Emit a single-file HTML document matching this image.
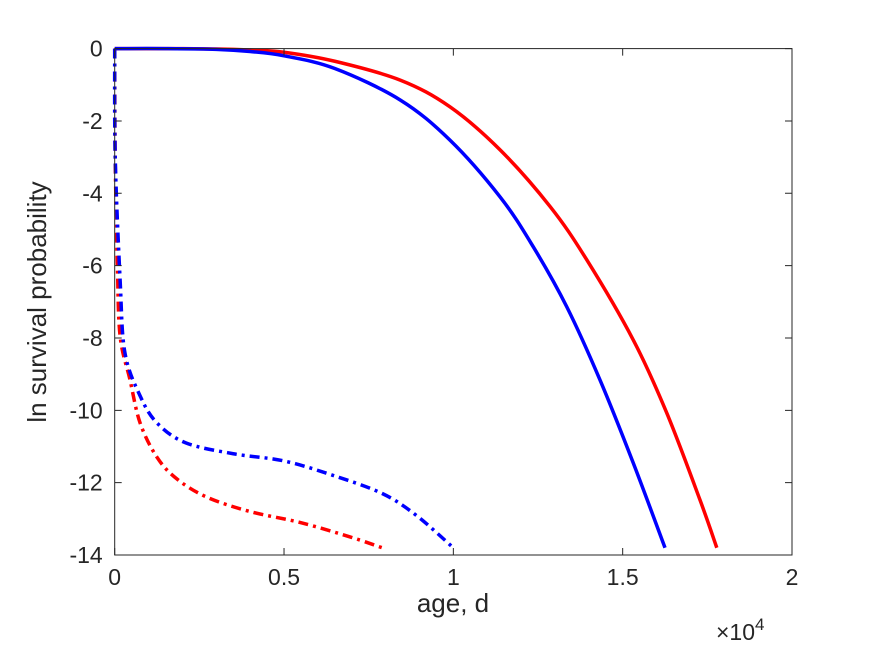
<!DOCTYPE html>
<html><head><meta charset="utf-8"><style>
body{margin:0;background:#fff;}
svg text{font-family:"Liberation Sans",sans-serif;fill:#262626;}
</style></head><body>
<svg id="chart" width="875" height="656" viewBox="0 0 875 656" xmlns="http://www.w3.org/2000/svg">
<rect width="875" height="656" fill="#fff"/>
<g id="plot"></g>
<g id="axes"></g>
<text x="453" y="612" font-size="26" text-anchor="middle">age, d</text>
<text transform="translate(46,302) rotate(-90)" font-size="26" text-anchor="middle">ln survival probability</text>
<text x="716" y="640" font-size="23">×10<tspan font-size="17" dy="-10">4</tspan></text>
</svg>
<script>
const xTicks=[0,0.5,1,1.5,2];
const xTickLabels=["0","0.5","1","1.5","2"];
const yTicks=[0,-2,-4,-6,-8,-10,-12,-14];
const yTickLabels=["0","-2","-4","-6","-8","-10","-12","-14"];
const redSolidX=[0,0.15,0.3,0.4,0.5,0.65,0.843,0.99,1.138,1.286,1.394,1.531,1.63,1.728,1.778];
const redSolidY=[0,0,-0.01,-0.04,-0.1,-0.35,-0.87,-1.61,-2.8,-4.37,-5.84,-8.05,-10.07,-12.47,-13.8];
const blueSolidX=[0,0.15,0.3,0.4,0.5,0.65,0.843,0.99,1.138,1.236,1.335,1.433,1.531,1.625];
const blueSolidY=[0,0,-0.02,-0.08,-0.2,-0.55,-1.42,-2.53,-4.1,-5.48,-7.14,-9.16,-11.45,-13.8];
const blueDashX=[0,0.0015,0.016,0.03,0.075,0.125,0.21,0.35,0.5,0.645,0.79,0.89,1.0];
const blueDashY=[0,-3,-6.4,-8.4,-9.6,-10.35,-10.9,-11.2,-11.4,-11.8,-12.3,-12.9,-13.8];
const redDashX=[0,0.0015,0.008,0.016,0.045,0.075,0.125,0.184,0.272,0.4,0.547,0.695,0.79];
const redDashY=[0,-3,-6,-7.95,-9.15,-10.35,-11.3,-11.9,-12.4,-12.8,-13.1,-13.5,-13.8];
const L=114.7,R=792,T=48.6,B=555;
const sx=v=>L+(v-0)/(2-0)*(R-L);
const sy=v=>T+(0-v)/(14)*(B-T);
const NS="http://www.w3.org/2000/svg";
function pathFrom(xs,ys){
  const p=xs.map((x,i)=>[sx(x),sy(ys[i])]);
  let d="M"+p[0][0]+","+p[0][1];
  for(let i=0;i<p.length-1;i++){
    const p0=p[Math.max(0,i-1)],p1=p[i],p2=p[i+1],p3=p[Math.min(p.length-1,i+2)];
    const c1=[p1[0]+(p2[0]-p0[0])/6,p1[1]+(p2[1]-p0[1])/6];
    const c2=[p2[0]-(p3[0]-p1[0])/6,p2[1]-(p3[1]-p1[1])/6];
    d+=" C"+c1+" "+c2+" "+p2;
  }
  return d;
}
const plot=document.getElementById("plot");
function addLine(xs,ys,color,dash,name){
  const e=document.createElementNS(NS,"path");
  e.setAttribute("d",pathFrom(xs,ys));
  e.setAttribute("fill","none");
  e.setAttribute("stroke",color);
  e.setAttribute("stroke-width","3.5");
  if(dash)e.setAttribute("stroke-dasharray",dash);
  
  
  plot.appendChild(e);
}
addLine(redDashX,redDashY,"#ff0000","10 5 3 5","red-dashdot-line");
addLine(blueDashX,blueDashY,"#0000ff","10 5 3 5","blue-dashdot-line");
addLine(redSolidX,redSolidY,"#ff0000",null,"red-solid-line");
addLine(blueSolidX,blueSolidY,"#0000ff",null,"blue-solid-line");
const ax=document.getElementById("axes");
const box=document.createElementNS(NS,"rect");
box.setAttribute("x",L);box.setAttribute("y",T);box.setAttribute("width",R-L);box.setAttribute("height",B-T);
box.setAttribute("fill","none");box.setAttribute("stroke","#262626");box.setAttribute("stroke-width","1");


ax.appendChild(box);
xTicks.forEach((t,i)=>{
  const x=sx(t);
  const tk=document.createElementNS(NS,"path");
  tk.setAttribute("d",`M${x},${B}V${B-7}M${x},${T}V${T+7}`);
  tk.setAttribute("stroke","#262626");
  
  
  ax.appendChild(tk);
  const tx=document.createElementNS(NS,"text");
  tx.setAttribute("x",x);tx.setAttribute("y",B+30);tx.setAttribute("font-size","23");tx.setAttribute("text-anchor","middle");
  tx.textContent=xTickLabels[i];
  
  
  ax.appendChild(tx);
});
yTicks.forEach((t,i)=>{
  const y=sy(t);
  const tk=document.createElementNS(NS,"path");
  tk.setAttribute("d",`M${L},${y}H${L+7}M${R},${y}H${R-7}`);
  tk.setAttribute("stroke","#262626");
  
  
  ax.appendChild(tk);
  const tx=document.createElementNS(NS,"text");
  tx.setAttribute("x",L-12);tx.setAttribute("y",y+8);tx.setAttribute("font-size","23");tx.setAttribute("text-anchor","end");
  tx.textContent=yTickLabels[i];
  
  
  ax.appendChild(tx);
});
</script>
</body></html>
